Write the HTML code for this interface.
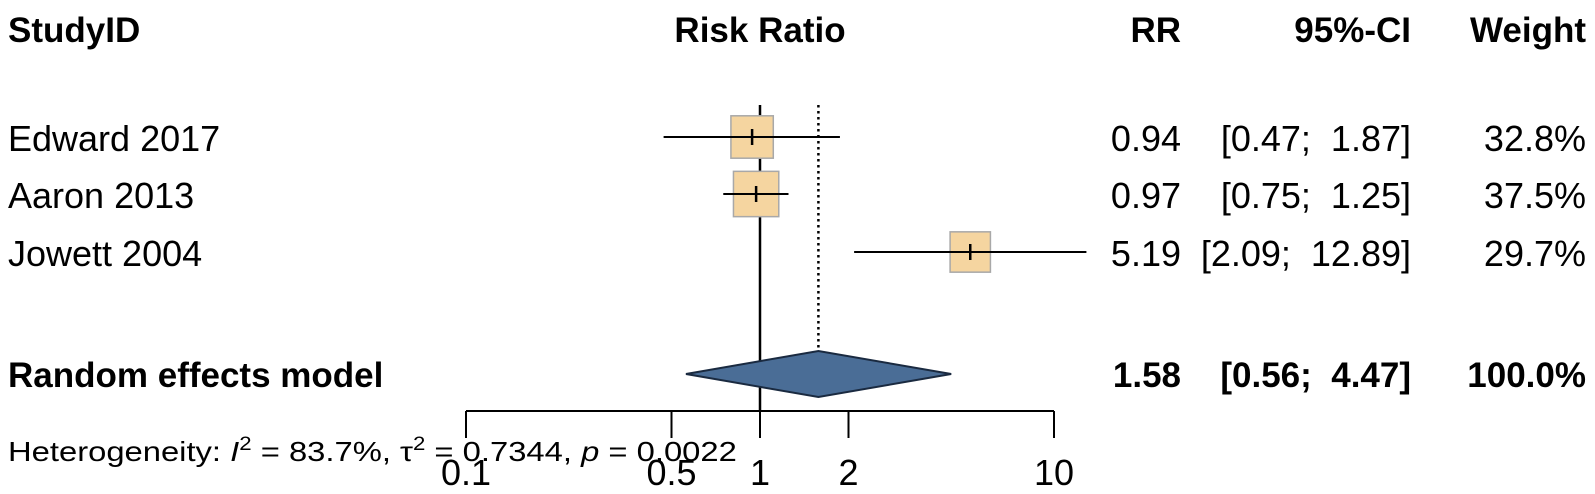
<!DOCTYPE html>
<html><head><meta charset="utf-8"><style>
body{margin:0;background:#fff;width:1595px;height:489px;overflow:hidden}
svg text{font-family:"Liberation Sans",Arial,sans-serif;fill:#000}
</style></head><body>
<svg width="1595" height="489">
<g id="g"></g>
</svg>
<script>
const studies=["Edward 2017","Aaron 2013","Jowett 2004"];
const rr=[0.94,0.97,5.19];
const lo=[0.47,0.75,2.09];
const hi=[1.87,1.25,12.89];
const weights=[32.8,37.5,29.7];
const pooled=[1.58,0.56,4.47];
const ticks=[0.1,0.5,1,2,10];
const rowY=[137,194,252];
const X=v=>760+294*Math.log10(v);
const NS="http://www.w3.org/2000/svg",g=document.getElementById('g');
function el(t,a,txt){const e=document.createElementNS(NS,t);for(const k in a)e.setAttribute(k,a[k]);if(txt!=null)e.textContent=txt;g.appendChild(e);return e;}
function tx(x,y,s,o,fs,sx){return el('text',Object.assign({x:0,y:0,transform:`translate(${x},${y}) scale(${sx||1},1)`,'font-size':fs||36},o||{}),s);}
let e;
e=tx(8,42,"StudyID",{'font-weight':'bold'},35);


e=tx(760,42,"Risk Ratio",{'font-weight':'bold','text-anchor':'middle'},35);


e=tx(1181,42,"RR",{'font-weight':'bold','text-anchor':'end'},35);


e=tx(1411,42,"95%-CI",{'font-weight':'bold','text-anchor':'end'},35);


e=tx(1586,42,"Weight",{'font-weight':'bold','text-anchor':'end'},35);


e=el('line',{x1:X(1),x2:X(1),y1:105,y2:411,stroke:'#000','stroke-width':2.5});


e=el('line',{x1:X(pooled[0]),x2:X(pooled[0]),y1:105,y2:352,stroke:'#000','stroke-width':2.5,'stroke-dasharray':'2.5,3.5'});


const sizes=weights.map(w=>Math.sqrt(w)*7.4);
studies.forEach((s,i)=>{
  const y=rowY[i],c=X(rr[i]),sz=sizes[i];
  let r=el('rect',{x:c-sz/2,y:y-sz/2,width:sz,height:sz,fill:'#f5d5a0',stroke:'#a8a8a8','stroke-width':1.5});
  
  
  let l=el('line',{x1:X(lo[i]),x2:Math.min(X(hi[i]),1088),y1:y,y2:y,stroke:'#000','stroke-width':2});
  
  
  el('line',{x1:c,x2:c,y1:y-8,y2:y+8,stroke:'#000','stroke-width':2.5});
  let t=tx(8,y+14,s);
  
  
  t=tx(1181,y+14,rr[i].toFixed(2),{'text-anchor':'end'});
  
  
  t=tx(1411,y+14,"["+lo[i].toFixed(2)+";\u00a0 "+hi[i].toFixed(2)+"]",{'text-anchor':'end'});
  
  
  t=tx(1586,y+14,weights[i].toFixed(1)+"%",{'text-anchor':'end'});
  
  
});
const dy=374;
e=el('polygon',{points:`${X(pooled[1])},${dy} ${X(pooled[0])},${dy-23} ${X(pooled[2])},${dy} ${X(pooled[0])},${dy+23}`,fill:'#4a6d96',stroke:'#1a2a40','stroke-width':2});


e=tx(8,dy+13,"Random effects model",{'font-weight':'bold'},35);


e=tx(1181,dy+13,pooled[0].toFixed(2),{'font-weight':'bold','text-anchor':'end'},35);


e=tx(1411,dy+13,"["+pooled[1].toFixed(2)+";\u00a0 "+pooled[2].toFixed(2)+"]",{'font-weight':'bold','text-anchor':'end'},35);


e=tx(1586,dy+13,"100.0%",{'font-weight':'bold','text-anchor':'end'},35);


e=el('line',{x1:X(ticks[0]),x2:X(ticks[ticks.length-1]),y1:411,y2:411,stroke:'#000','stroke-width':2});


ticks.forEach(t=>{
  let l=el('line',{x1:X(t),x2:X(t),y1:411,y2:438,stroke:'#000','stroke-width':2});
  
  
  let s=tx(X(t),485,String(t),{'text-anchor':'middle'},36);
  
  
});
e=el('text',{x:0,y:0,transform:'translate(8,461) scale(1.17,1)','font-size':28});
e.innerHTML='Heterogeneity: <tspan font-style="italic">I</tspan><tspan dy="-11" font-size="19">2</tspan><tspan dy="11"> = 83.7%, τ</tspan><tspan dy="-11" font-size="19">2</tspan><tspan dy="11"> = 0.7344, </tspan><tspan font-style="italic">p</tspan> = 0.0022';


</script>
</body></html>
